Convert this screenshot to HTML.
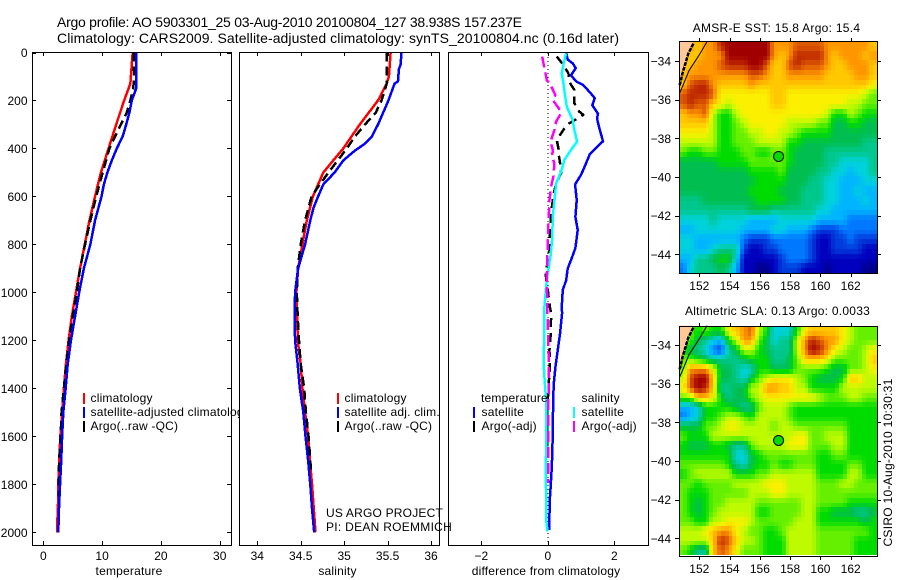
<!DOCTYPE html>
<html lang="en">
<head>
<meta charset="utf-8">
<title>Argo profile 5903301_25</title>
<style>
html,body{margin:0;padding:0;background:#fff;}
svg{display:block;}
text{font-family:"Liberation Sans",sans-serif;font-size:12px;fill:#000;letter-spacing:0.2px;}
.title{font-size:14px;letter-spacing:0;}
.tick{letter-spacing:0;}
.frame{fill:none;stroke:#000;stroke-width:1;shape-rendering:crispEdges;}
</style>
</head>
<body>
<svg id="chart" xmlns="http://www.w3.org/2000/svg" width="900" height="580" viewBox="0 0 900 580">
  <rect x="0" y="0" width="900" height="580" fill="#fff"/>

  <text class="title" x="57" y="27" textLength="465" lengthAdjust="spacing">Argo profile: AO 5903301_25 03-Aug-2010 20100804_127 38.938S 157.237E</text>
  <text class="title" x="57" y="43" textLength="562" lengthAdjust="spacing">Climatology: CARS2009. Satellite-adjusted climatology: synTS_20100804.nc (0.16d later)</text>

  <g id="panel-t"></g>
  <g>
    <rect x="83" y="393" width="2" height="11" fill="#f00"/>
    <text x="90.5" y="402">climatology</text>
    <rect x="83" y="407" width="2" height="11" fill="#00f"/>
    <text x="90.5" y="416">satellite-adjusted climatology</text>
    <rect x="83" y="421" width="2" height="11" fill="#000"/>
    <text x="90.5" y="430">Argo(..raw -QC)</text>
  </g>

  <g id="panel-s"></g>
  <g>
    <rect x="337" y="393" width="2" height="11" fill="#f00"/>
    <text x="344.5" y="402">climatology</text>
    <rect x="337" y="407" width="2" height="11" fill="#00f"/>
    <text x="344.5" y="416">satellite adj. clim.</text>
    <rect x="337" y="421" width="2" height="11" fill="#000"/>
    <text x="344.5" y="430">Argo(..raw -QC)</text>
  </g>

  <g id="panel-d"></g>
  <g>
    <text x="481" y="402">temperature</text>
    <rect x="473" y="407" width="2" height="11" fill="#00f"/>
    <text x="481.5" y="416">satellite</text>
    <rect x="473" y="421" width="2" height="11" fill="#000"/>
    <text x="481.5" y="430">Argo(-adj)</text>
    <text x="581.5" y="402">salinity</text>
    <rect x="573" y="407" width="2" height="11" fill="#0ff"/>
    <text x="581.5" y="416">satellite</text>
    <rect x="573" y="421" width="2" height="11" fill="#f0f"/>
    <text x="581.5" y="430">Argo(-adj)</text>
  </g>

  <text x="326" y="517" textLength="117" lengthAdjust="spacing">US ARGO PROJECT</text>
  <text x="326" y="531" textLength="126" lengthAdjust="spacing">PI: DEAN ROEMMICH</text>

  <text x="129" y="575" text-anchor="middle">temperature</text>
  <text x="337.5" y="575" text-anchor="middle">salinity</text>
  <text x="546" y="575" text-anchor="middle">difference from climatology</text>

  <g id="map-sst"></g>
  <g id="map-sla"></g>
  <text x="692.7" y="32" textLength="167.5" lengthAdjust="spacing">AMSR-E SST: 15.8 Argo: 15.4</text>
  <text x="685" y="315" textLength="185" lengthAdjust="spacing">Altimetric SLA: 0.13 Argo: 0.0033</text>
  <text transform="translate(892,546.5) rotate(-90)" textLength="168" lengthAdjust="spacing">CSIRO 10-Aug-2010 10:30:31</text>
</svg>

<script>
// ---- Profile data (depth in dbar) ----
const depthTicks = [0,200,400,600,800,1000,1200,1400,1600,1800,2000];
const tempTicks = [0,10,20,30];
const salTicks = [34,34.5,35,35.5,36];
const salTickLabels = ['34','34.5','35','35.5','36'];
const diffTicks = [-2,0,2];

const tempClimDepth = [0,100,130,200,300,400,500,600,700,800,900,1000,1100,1200,1300,1400,1500,1600,1700,1800,1850,1950,2000];
const tempClimValue = [15.2,14.9,14.8,13.75,12.4,11.1,9.8,8.8,7.85,7.05,6.25,5.55,4.85,4.3,3.85,3.5,3.2,2.9,2.7,2.55,2.55,2.4,2.4];
const tempSatDepth = [0,150,200,250,300,350,400,450,500,550,600,700,800,900,1000,1100,1200,1300,1400,1500,1600,1700,1800,1900,2000];
const tempSatValue = [15.8,15.8,15.05,14.65,14.1,13.5,12.5,11.65,10.9,10.3,9.9,8.8,8.0,6.9,6.1,5.4,4.7,4.15,3.8,3.4,3.2,3.05,2.85,2.67,2.55];
const tempArgoDepth = [0,100,150,200,250,300,350,400,500,600,700,800,900,1000,1100,1200,1300,1400,1500,1600,1700,1800,1850];
const tempArgoValue = [15.35,15.45,15.3,14.8,14.2,13.2,12.2,11.25,10.1,9,8,7.1,6.25,5.7,5,4.4,3.9,3.5,3.1,2.95,2.7,2.6,2.6];

const salClimDepth = [0,100,130,200,300,400,500,600,700,800,900,1000,1100,1200,1300,1400,1500,1600,1700,1800,1900,2000];
const salClimValue = [35.535,35.515,35.49,35.39,35.18,34.99,34.76,34.64,34.57,34.52,34.47,34.45,34.46,34.465,34.5,34.52,34.55,34.585,34.605,34.63,34.65,34.67];
const salSatDepth = [0,50,70,120,130,200,250,300,350,380,410,450,500,550,600,650,700,800,900,1000,1100,1200,1300,1400,1500,1600,1700,1800,1900,2000];
const salSatValue = [35.66,35.65,35.63,35.62,35.58,35.51,35.45,35.39,35.32,35.24,35.12,34.99,34.89,34.76,34.70,34.645,34.61,34.55,34.47,34.435,34.43,34.435,34.465,34.49,34.53,34.555,34.585,34.61,34.63,34.655];
const salArgoDepth = [0,130,200,250,300,350,400,500,550,600,700,800,900,1000,1100,1200,1300,1400,1500,1600,1700,1750];
const salArgoValue = [35.49,35.49,35.43,35.365,35.24,35.125,35.03,34.82,34.72,34.625,34.55,34.5,34.465,34.455,34.465,34.48,34.5,34.54,34.56,34.59,34.61,34.62];

const diffTSatDepth = [0,30,45,65,95,120,135,165,190,220,255,275,310,370,425,475,510,550,615,685,740,815,865,900,950,990,1060,1087,1170,1240,1310,1380,1450,1590,1730,1800,1865,1990];
const diffTSatValue = [0.55,0.60,0.75,0.84,0.70,0.85,1.06,1.26,1.41,1.34,1.51,1.48,1.54,1.66,1.26,1.11,1.0,0.82,0.87,0.83,0.90,0.83,0.70,0.60,0.55,0.45,0.42,0.43,0.37,0.30,0.23,0.18,0.16,0.15,0.12,0.09,0.06,0.04];
const diffTArgoDepth = [17,52,87,128,156,212,247,260,274,295,316,365,406,427,462,503,545,594,670,781,851,920,990,1059,1087,1170,1240,1309,1378,1448,1517,1642];
const diffTArgoValue = [0.27,0.47,0.62,0.67,0.80,0.80,0.95,1.07,0.90,0.65,0.50,0.27,0.33,0.33,0.37,0.40,0.25,0.17,0.10,0.05,0.03,-0.07,0,0.06,0.10,0.09,0.05,0.06,0.03,0,-0.02,-0.02];
const diffSSatDepth = [3,45,87,128,170,226,281,323,372,406,448,497,545,615,684,781,851,920,976,1059,1087,1170,1309,1378,1448,1587,1726,1795,1865,1948,1996];
const diffSSatValue = [0.55,0.48,0.42,0.47,0.51,0.57,0.75,0.80,0.88,0.70,0.50,0.40,0.25,0.20,0.15,0.13,0.08,0,-0.05,-0.10,-0.10,-0.11,-0.12,-0.09,-0.05,-0.04,-0.06,-0.06,-0.04,-0.05,-0.01];
const diffSArgoDepth = [17,66,115,135,177,198,233,253,288,323,372,406,434,462,517,552,615,684,753,809,878,976,1059,1087,1240,1378,1517,1656,1795];
const diffSArgoValue = [-0.17,-0.10,-0.03,0.08,0.23,0.15,0.33,0.40,0.25,0.20,0.08,0.15,0.13,0.20,0.17,0.11,0.05,0.03,0.01,0,-0.02,-0.03,-0.01,-0.01,0.02,0.03,0.01,0.01,0.01];

// ---- Map data (colour-level per 0.5 degree cell) ----
const lonTicks = [152,154,156,158,160,162];
const latTicks = [-34,-36,-38,-40,-42,-44];
const floatLon = 157.237;
const floatLat = -38.938;
const sstFloatLevel = 8;
const slaFloatLevel = 8;
const landLon = [150.68,151.6,151.6,151.27,151.08,150.88,150.75,150.68];
const landLat = [-33,-33,-33.1,-33.62,-34.14,-34.66,-35.12,-35.28];
const shelfLon = [152.51,152.05,151.32,150.86,150.68];
const shelfLat = [-33,-33.62,-34.5,-35.38,-35.69];

const levelColors = ['#00008c','#0000be','#003cdc','#0078ff','#00b4ff','#00d2dc','#00c88c','#00be50','#00dc00','#64f000','#befa00','#faf000','#ffc800','#ff9600','#dc5a00','#be2800','#a00000'];

const sstRows = [
[13,13,12,13,13,15,16,16,16,16,16,16,13,13,13,14,14,14,14,13,13,13,13,13,13,12],
[12,12,12,13,13,13,16,16,16,16,16,16,13,12,13,15,15,15,15,13,12,13,13,13,12,13],
[12,12,13,13,13,14,15,15,15,16,16,14,12,12,14,15,14,14,14,13,12,12,13,13,13,12],
[12,13,13,13,13,13,13,13,13,14,14,13,12,12,13,13,13,13,13,12,12,12,12,13,13,12],
[12,14,15,15,13,12,12,12,12,13,12,12,12,12,12,12,12,12,12,12,12,12,12,12,12,11],
[14,15,15,15,14,11,11,11,11,11,11,11,12,12,11,11,11,11,11,11,11,11,11,11,10,9],
[14,15,14,14,12,11,10,11,11,11,11,11,12,12,11,11,11,11,11,11,11,11,10,10,9,9],
[12,13,13,14,10,8,8,10,11,11,11,11,11,11,11,11,11,11,11,10,8,8,10,9,8,8],
[12,12,12,12,10,8,8,9,10,11,11,11,11,11,10,10,10,10,9,9,7,7,8,8,7,7],
[11,11,11,11,10,8,8,9,9,10,10,11,11,10,10,9,8,8,8,8,7,7,7,7,7,7],
[10,10,10,10,10,8,8,9,9,9,10,10,10,10,8,8,7,7,7,7,7,7,7,7,6,6],
[9,8,8,9,9,8,8,8,9,9,8,8,9,9,8,7,7,7,7,6,6,6,6,6,6,6],
[7,7,7,7,7,8,8,8,8,9,9,9,9,9,8,7,7,7,7,6,6,5,5,5,5,6],
[7,7,7,7,7,7,7,7,7,8,8,8,8,9,7,7,7,7,6,6,5,5,4,5,5,6],
[7,7,7,7,7,7,7,7,7,7,8,8,8,8,7,7,7,6,6,5,5,4,4,4,5,5],
[7,7,7,7,7,7,7,7,7,8,8,8,8,7,7,7,6,6,6,5,5,4,4,5,4,4],
[6,6,6,7,7,7,7,7,7,7,8,8,8,8,7,7,6,6,6,5,5,4,4,4,5,4],
[6,6,6,6,6,6,6,6,6,7,7,7,6,6,6,6,6,6,5,5,4,4,4,4,4,4],
[5,5,5,5,6,5,5,5,5,4,4,4,4,5,5,5,5,5,4,4,4,4,3,3,3,3],
[4,4,5,5,5,5,5,5,4,4,4,4,5,5,4,4,4,3,2,2,2,3,3,3,3,3],
[5,5,4,4,4,4,4,4,3,2,2,2,3,3,3,3,3,2,1,1,2,2,3,2,2,2],
[5,5,4,4,5,6,6,6,2,1,1,2,2,3,3,3,3,2,1,1,2,2,2,2,1,1],
[4,4,6,6,7,8,8,5,1,1,1,1,1,2,3,3,3,2,1,1,1,1,1,1,1,1],
[3,5,6,6,6,7,6,4,1,1,0,0,1,2,2,2,1,1,1,0,1,1,1,1,0,0]
];

const slaRows = [
[9,9,8,9,8,8,11,12,13,14,10,8,5,5,5,8,11,12,12,12,12,11,10,9,9,9],
[9,9,7,6,5,4,8,10,13,13,9,7,5,6,6,10,13,15,14,13,13,11,10,9,9,9],
[8,7,6,5,3,2,6,7,10,10,8,7,6,6,6,10,13,16,15,13,11,10,9,9,10,11],
[9,9,8,7,6,6,6,6,7,8,8,8,6,6,7,9,12,12,12,11,9,9,9,9,10,12],
[9,13,13,13,11,7,7,6,5,5,8,8,7,7,7,9,9,9,9,8,7,7,9,9,10,11],
[10,14,16,16,12,7,7,6,5,7,9,10,11,11,11,10,9,8,7,7,7,8,12,12,10,10],
[11,14,16,15,12,6,6,7,7,10,10,13,13,12,12,10,10,8,8,8,8,10,10,10,10,10],
[9,9,12,12,11,8,6,7,7,9,10,11,11,11,11,11,11,11,10,9,9,9,10,10,9,9],
[4,4,5,8,8,8,8,7,6,6,9,10,10,10,9,8,8,8,8,8,8,8,8,8,8,8],
[3,4,5,8,8,9,10,10,9,8,10,10,10,10,9,8,8,8,8,8,8,8,8,8,8,8],
[7,7,7,9,9,10,11,11,10,10,10,10,9,10,10,9,9,9,9,9,9,9,8,8,8,8],
[9,8,8,8,10,10,10,10,10,10,10,10,10,10,10,11,11,9,9,10,10,10,8,8,8,8],
[8,7,7,7,8,8,7,6,6,9,10,10,10,10,11,11,11,9,9,9,10,10,8,8,8,8],
[8,8,8,8,8,8,8,5,5,7,8,9,9,9,9,9,9,9,8,8,9,9,8,8,8,8],
[9,9,9,9,9,9,8,6,5,7,8,8,9,8,8,9,9,9,8,8,8,8,9,9,8,8],
[8,9,10,10,10,10,10,8,8,8,9,9,10,10,10,10,10,10,8,8,8,8,10,10,8,8],
[9,9,8,9,9,9,9,10,10,10,10,11,11,11,10,10,10,10,9,9,9,10,10,9,9,9],
[9,8,8,8,9,9,9,9,9,10,10,10,11,11,10,10,10,10,9,9,9,9,9,9,9,9],
[9,8,7,8,9,9,10,10,10,10,9,9,9,9,9,9,10,10,9,9,9,9,8,8,8,8],
[9,8,7,8,9,10,10,10,10,10,8,8,9,9,9,9,10,10,8,8,7,7,7,6,6,7],
[9,9,8,8,10,10,11,11,11,10,9,9,9,9,9,10,10,10,8,8,8,8,8,8,7,8],
[10,10,10,11,12,13,13,11,10,9,9,8,8,9,10,10,10,10,9,9,9,9,9,9,9,8],
[10,10,10,10,12,15,14,12,10,10,9,8,8,8,10,10,10,10,9,9,9,9,9,8,8,8],
[9,8,6,6,12,14,13,11,9,9,9,8,8,8,10,10,10,10,9,9,9,9,9,8,8,8]
];

// ---- Helpers ----
const NS = 'http://www.w3.org/2000/svg';
function mk(parent, tag, attrs, name) {
  const node = document.createElementNS(NS, tag);
  for (const k in attrs) node.setAttribute(k, attrs[k]);
  
  
  parent.appendChild(node);
  return node;
}
function linear(d0, d1, r0, r1) {
  return v => r0 + (v - d0) * (r1 - r0) / (d1 - d0);
}
const depthY = linear(0, 2000, 52.5, 532.3);
const pct = v => v.toFixed(2);

function hexRgb(h) {
  return [parseInt(h.slice(1,3),16), parseInt(h.slice(3,5),16), parseInt(h.slice(5,7),16)];
}
function levelColor(v) {
  const c = Math.max(0, Math.min(levelColors.length - 1, v));
  const a = Math.floor(c), b = Math.min(levelColors.length - 1, a + 1), f = c - a;
  const ca = hexRgb(levelColors[a]), cb = hexRgb(levelColors[b]);
  return 'rgb(' + ca.map((x, i) => Math.round(x + (cb[i] - x) * f)).join(',') + ')';
}
function sampleGrid(rows, fi, fj) {
  const nr = rows.length, nc = rows[0].length;
  const ci = Math.max(0, Math.min(nc - 1, fi)), cj = Math.max(0, Math.min(nr - 1, fj));
  const i0 = Math.floor(ci), j0 = Math.floor(cj);
  const i1 = Math.min(nc - 1, i0 + 1), j1 = Math.min(nr - 1, j0 + 1);
  const u = ci - i0, w = cj - j0;
  return (rows[j0][i0] * (1 - u) + rows[j0][i1] * u) * (1 - w) + (rows[j1][i0] * (1 - u) + rows[j1][i1] * u) * w;
}

function drawLine(g, xs, depths, values, color, width, dash, name) {
  const pts = values.map((v, i) => pct(xs(v)) + ',' + pct(depthY(depths[i]))).join(' ');
  const attrs = {points: pts, fill: 'none', stroke: color, 'stroke-width': width, 'shape-rendering': 'crispEdges', 'stroke-linejoin': 'round'};
  if (dash) attrs['stroke-dasharray'] = dash;
  mk(g, 'polyline', attrs, name);
}

function drawPanel(id, left, right, xs, xTicks, xLabels, showDepthAxis, prefix) {
  const g = document.getElementById(id);
  const top = 52, bottom = 545;
  mk(g, 'rect', {x: left, y: top, width: right - left, height: bottom - top, fill: '#fff'}, prefix + '-plot-area');
  const ticks = mk(g, 'g', {}, prefix + '-axes');
  xTicks.forEach((t, i) => {
    const x = Math.round(xs(t)) + 0.5;
    mk(ticks, 'line', {x1: x, x2: x, y1: top, y2: top + 4, stroke: '#000', 'shape-rendering': 'crispEdges'}, prefix + '-top-tick');
    mk(ticks, 'line', {x1: x, x2: x, y1: bottom, y2: bottom - 4, stroke: '#000', 'shape-rendering': 'crispEdges'}, prefix + '-bottom-tick');
    const label = mk(ticks, 'text', {x: xs(t), y: 560, 'text-anchor': 'middle', class: 'tick'}, prefix + '-x-tick-label');
    label.textContent = xLabels[i];
  });
  if (showDepthAxis) {
    depthTicks.forEach(d => {
      const y = Math.round(depthY(d)) + 0.5;
      mk(ticks, 'line', {x1: left, x2: left + 4, y1: y, y2: y, stroke: '#000', 'shape-rendering': 'crispEdges'}, 'depth-left-tick');
      mk(ticks, 'line', {x1: right, x2: right - 4, y1: y, y2: y, stroke: '#000', 'shape-rendering': 'crispEdges'}, 'depth-right-tick');
      const label = mk(ticks, 'text', {x: 27.5, y: depthY(d) + 4.5, 'text-anchor': 'end', class: 'tick'}, 'depth-tick-label');
      label.textContent = String(d);
    });
  }
  return g;
}
function addFrame(g, left, right, name) {
  mk(g, 'rect', {x: left + 0.5, y: 52.5, width: right - left, height: 493, class: 'frame'}, name);
}

// ---- Temperature panel ----
const xTemp = linear(0, 30, 43.3, 219.7);
const gT = drawPanel('panel-t', 32, 231, xTemp, tempTicks, tempTicks.map(String), true, 'temperature');
drawLine(gT, xTemp, tempClimDepth, tempClimValue, '#f00', 2.5, null, 'temperature-climatology-line');
drawLine(gT, xTemp, tempArgoDepth, tempArgoValue, '#000', 2.5, '9,5', 'temperature-argo-line');
drawLine(gT, xTemp, tempSatDepth, tempSatValue, '#00f', 2.5, null, 'temperature-satellite-line');
addFrame(gT, 32, 231, 'temperature-frame');

// ---- Salinity panel ----
const xSal = linear(34, 36, 257.3, 431);
const gS = drawPanel('panel-s', 239, 439, xSal, salTicks, salTickLabels, false, 'salinity');
drawLine(gS, xSal, salClimDepth, salClimValue, '#f00', 2.5, null, 'salinity-climatology-line');
drawLine(gS, xSal, salArgoDepth, salArgoValue, '#000', 2.5, '9,5', 'salinity-argo-line');
drawLine(gS, xSal, salSatDepth, salSatValue, '#00f', 2.5, null, 'salinity-satellite-line');
addFrame(gS, 239, 439, 'salinity-frame');

// ---- Difference panel ----
const xDiff = linear(-2, 2, 481.3, 614.3);
const gD = drawPanel('panel-d', 448, 648, xDiff, diffTicks, diffTicks.map(t => t < 0 ? '\u2212' + Math.abs(t) : String(t)), false, 'difference');
mk(gD, 'line', {x1: pct(xDiff(0)), x2: pct(xDiff(0)), y1: 53, y2: 545, stroke: '#000', 'stroke-dasharray': '1,3', 'shape-rendering': 'crispEdges'}, 'zero-reference-line');
drawLine(gD, xDiff, diffTSatDepth, diffTSatValue, '#00f', 2.5, null, 'difference-temperature-satellite-line');
drawLine(gD, xDiff, diffTArgoDepth, diffTArgoValue, '#000', 2.5, '9,6', 'difference-temperature-argo-line');
drawLine(gD, xDiff, diffSSatDepth, diffSSatValue, '#0ff', 2.5, null, 'difference-salinity-satellite-line');
drawLine(gD, xDiff, diffSArgoDepth, diffSArgoValue, '#f0f', 2.5, '11,5', 'difference-salinity-argo-line');
addFrame(gD, 448, 648, 'difference-frame');

// ---- Maps ----
function drawMap(id, rows, top, bottom, lat34Y, cellBottom, floatLevel, prefix) {
  const g = document.getElementById(id);
  const left = 679, right = 877;
  const sub = 2;
  const lonX = linear(152, 162, 699.3, 850.7);
  const latY = linear(-34, -44, lat34Y, lat34Y + 193.3);
  const nRows = rows.length, nCols = rows[0].length;
  const cw = (right - left) / (nCols * sub);
  const ch = (cellBottom - top) / (nRows * sub);
  const cells = mk(g, 'g', {'shape-rendering': 'crispEdges'}, prefix + '-heatmap');
  for (let j = 0; j < nRows * sub; j++) {
    for (let i = 0; i < nCols * sub; i++) {
      const v = sampleGrid(rows, (i + 0.5) / sub - 0.5, (j + 0.5) / sub - 0.5);
      const x0 = Math.round(left + i * cw), x1 = Math.round(left + (i + 1) * cw);
      const y0 = Math.round(top + j * ch), y1 = Math.round(top + (j + 1) * ch);
      mk(cells, 'rect', {x: x0, y: y0, width: x1 - x0, height: y1 - y0, fill: levelColor(v)}, prefix + '-cell');
    }
  }
  const project = (lons, lats) => lons.map((lo, i) => pct(Math.max(left, lonX(lo))) + ',' + pct(latY(lats[i]))).join(' ');
  const landPts = project(landLon, landLat);
  mk(g, 'polygon', {points: landPts, fill: '#ffc896', stroke: 'none'}, prefix + '-land');
  const coastPts = project(landLon.slice(2), landLat.slice(2));
  mk(g, 'polyline', {points: coastPts, fill: 'none', stroke: '#000', 'stroke-width': 2.5, 'stroke-dasharray': '4,1', 'shape-rendering': 'crispEdges'}, prefix + '-coastline');
  mk(g, 'polyline', {points: project(shelfLon, shelfLat), fill: 'none', stroke: '#000', 'stroke-width': 1}, prefix + '-boundary-line');
  mk(g, 'circle', {cx: pct(lonX(floatLon)), cy: pct(latY(floatLat)), r: 5, fill: levelColor(floatLevel), stroke: '#000', 'stroke-width': 1}, prefix + '-float-marker');
  mk(g, 'rect', {x: left + 0.5, y: top + 0.5, width: right - left, height: bottom - top, class: 'frame'}, prefix + '-frame');
  lonTicks.forEach(t => {
    const x = Math.round(lonX(t)) + 0.5;
    mk(g, 'line', {x1: x, x2: x, y1: top, y2: top - 3, stroke: '#000', 'shape-rendering': 'crispEdges'}, prefix + '-top-tick');
    mk(g, 'line', {x1: x, x2: x, y1: bottom + 1, y2: bottom + 4, stroke: '#000', 'shape-rendering': 'crispEdges'}, prefix + '-bottom-tick');
    const label = mk(g, 'text', {x: lonX(t), y: bottom + 17, 'text-anchor': 'middle', class: 'tick'}, prefix + '-lon-label');
    label.textContent = String(t);
  });
  latTicks.forEach(t => {
    const y = Math.round(latY(t)) + 0.5;
    mk(g, 'line', {x1: left - 4, x2: left, y1: y, y2: y, stroke: '#000', 'shape-rendering': 'crispEdges'}, prefix + '-left-tick');
    mk(g, 'line', {x1: right + 1, x2: right + 4, y1: y, y2: y, stroke: '#000', 'shape-rendering': 'crispEdges'}, prefix + '-right-tick');
    const label = mk(g, 'text', {x: 671, y: latY(t) + 4.5, 'text-anchor': 'end', class: 'tick'}, prefix + '-lat-label');
    label.textContent = '\u2212' + Math.abs(t);
  });
}
drawMap('map-sst', sstRows, 41, 273, 61, 273, sstFloatLevel, 'sst');
drawMap('map-sla', slaRows, 326, 556, 345, 555, slaFloatLevel, 'sla');
</script>
</body>
</html>
